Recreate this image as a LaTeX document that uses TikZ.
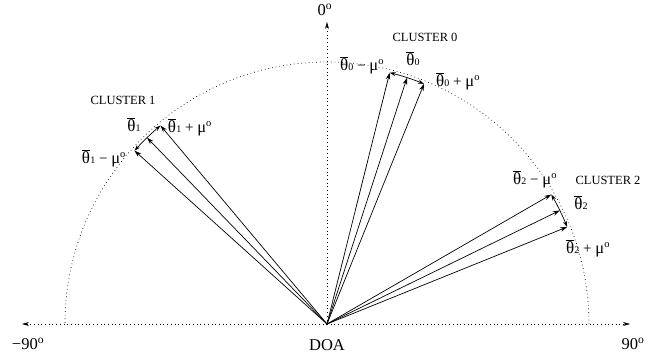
\documentclass[tikz,border=0pt]{standalone}
\usepackage{fontspec}
\setmainfont{Liberation Serif}
\usetikzlibrary{arrows.meta}
% mean direction with overbar and a small index digit
\newcommand{\thb}[1]{$\overline{\mbox{\fontsize{17}{17}\selectfont θ}}$\kern0.3pt{\fontsize{10}{10}\selectfont #1}}
\newcommand{\mudeg}{{\fontsize{16.5}{16.5}\selectfont μ}\textsuperscript{o}}
\newcommand{\degsym}{\textsuperscript{o}}
\begin{document}
\begin{tikzpicture}[x=1pt,y=1pt,
  axis/.style={line width=0.7pt, dash pattern=on 0.7pt off 3pt,
               -{Stealth[length=7pt,width=4pt]}},
  guide/.style={line width=0.7pt, dash pattern=on 0.7pt off 3pt},
  ray/.style={line width=0.7pt, -{Stealth[length=7pt,width=4.5pt]}},
  spread/.style={line width=0.7pt,
               {Stealth[length=6pt,width=4pt]}-{Stealth[length=6pt,width=4pt]}},
  lbl/.style={font=\fontsize{15}{15}\selectfont, inner sep=0pt},
  axlbl/.style={font=\fontsize{16.5}{16.5}\selectfont, inner sep=0pt},
  clbl/.style={font=\fontsize{12.5}{12.5}\selectfont, inner sep=0pt}]
\useasboundingbox (-327,-39) rectangle (333,324);

% axes
\coordinate (O) at (0,0);
\coordinate (L) at (-305,0);
\coordinate (R) at (303,0);
\coordinate (T) at (0,302);
\draw[axis] (O) -- (L);
\draw[axis] (O) -- (R);
\draw[axis] (O) -- (T);

% half circle of directions
\draw[guide] (262,0) arc[start angle=0, end angle=180, radius=262];

% ray end points (polar angle = 90 - DOA)
\foreach \n/\a in {a0/76, b0/72, c0/68, a1/138, b1/134, c1/130, a2/30, b2/26, c2/22}
  \coordinate (\n) at (\a:259);

\foreach \n in {a0,b0,c0,a1,b1,c1,a2,b2,c2}
  \draw[ray] (O) -- (\n);

% angular spread of each cluster
\draw[spread] (a0) arc[start angle=76, end angle=68, radius=259];
\draw[spread] (a1) arc[start angle=138, end angle=130, radius=259];
\draw[spread] (a2) arc[start angle=30, end angle=22, radius=259];

% axis labels
\node[axlbl] (l0)  at (-2,314)   {0\degsym};
\node[axlbl] (lm)  at (-299,-20) {−90\degsym};
\node[axlbl] (lp)  at (306,-20)  {90\degsym};
\node[axlbl] (doa) at (0,-21)    {DOA};

% cluster names
\node[clbl] (k0) at (98,287)   {CLUSTER 0};
\node[clbl] (k1) at (-204,224) {CLUSTER 1};
\node[clbl] (k2) at (281,144)  {CLUSTER 2};

% cluster 0
\node[lbl] (m0) at (35,259)  {\thb{0} − \mudeg};
\node[lbl] (e0) at (86,265)  {\thb{0}};
\node[lbl] (p0) at (131,243) {\thb{0} + \mudeg};
% cluster 1
\node[lbl] (e1) at (-193,199) {\thb{1}};
\node[lbl] (p1) at (-137,197) {\thb{1} + \mudeg};
\node[lbl] (m1) at (-223,166) {\thb{1} − \mudeg};
% cluster 2
\node[lbl] (m2) at (208,145) {\thb{2} − \mudeg};
\node[lbl] (e2) at (254,121) {\thb{2}};
\node[lbl] (p2) at (261,76)  {\thb{2} + \mudeg};
\end{tikzpicture}
\end{document}
